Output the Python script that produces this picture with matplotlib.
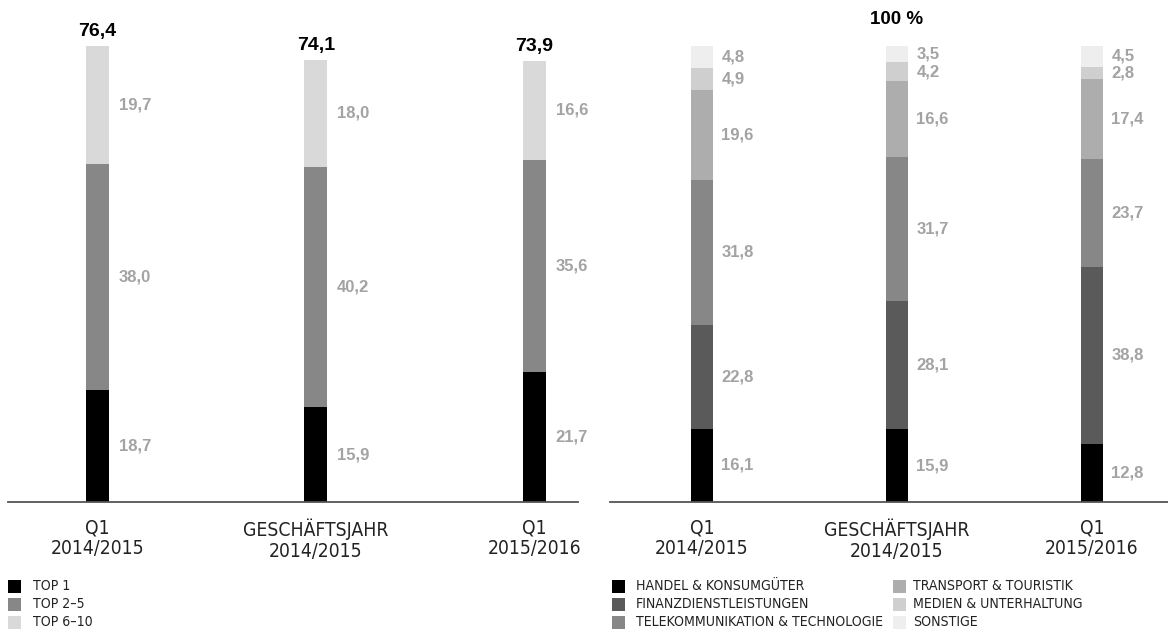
import matplotlib
matplotlib.use("Agg")
import matplotlib.pyplot as plt
from matplotlib import font_manager as fm
from matplotlib.font_manager import FontProperties
from matplotlib.patches import Rectangle

# ---- data ----
categories = ["Q1\n2014/2015", "GESCHÄFTSJAHR\n2014/2015", "Q1\n2015/2016"]

left_series = ["TOP 1", "TOP 2–5", "TOP 6–10"]
top1 = [18.7, 15.9, 21.7]
top2_5 = [38.0, 40.2, 35.6]
top6_10 = [19.7, 18.0, 16.6]
left_totals = [76.4, 74.1, 73.9]

right_series = ["HANDEL & KONSUMGÜTER", "FINANZDIENSTLEISTUNGEN",
                "TELEKOMMUNIKATION & TECHNOLOGIE", "TRANSPORT & TOURISTIK",
                "MEDIEN & UNTERHALTUNG", "SONSTIGE"]
handel = [16.1, 15.9, 12.8]
finanz = [22.8, 28.1, 38.8]
telekom = [31.8, 31.7, 23.7]
transport = [19.6, 16.6, 17.4]
medien = [4.9, 4.2, 2.8]
sonstige = [4.8, 3.5, 4.5]
right_total_label = "100 %"

left_colors = ["#000000", "#878787", "#d9d9d9"]
right_colors = ["#000000", "#5a5a5a", "#878787", "#adadad", "#cfcfcf", "#eeeeee"]

# ---- fonts ----
names = {f.name for f in fm.fontManager.ttflist}
NUMF = "Liberation Sans" if "Liberation Sans" in names else "DejaVu Sans"


def pick_narrow():
    cands = []
    for f in fm.fontManager.ttflist:
        n = f.name.lower()
        fn = f.fname.lower()
        narrow = ("narrow" in n or "condensed" in n or "narrow" in fn or
                  "condensed" in fn or str(f.stretch) in
                  ("condensed", "semi-condensed", "extra-condensed", "ultra-condensed"))
        if not narrow or f.style != "normal":
            continue
        w = f.weight if isinstance(f.weight, int) else {"normal": 400, "regular": 400,
                                                         "light": 300, "bold": 700}.get(str(f.weight), 400)
        if "bold" in fn or "italic" in fn or "oblique" in fn:
            continue
        pref = 0 if "liberation" in n else 1
        cands.append((pref, abs(w - 350), f.fname))
    if cands:
        cands.sort()
        return FontProperties(fname=cands[0][2])
    if "Roboto" in names:
        return FontProperties(family="Roboto", weight="light")
    return FontProperties(family="DejaVu Sans")


NARROW_FP = pick_narrow()

W, H = 1168, 632
fig = plt.figure(figsize=(W / 100, H / 100), dpi=100)
renderer = fig.canvas.get_renderer()


def fit_size(text, target_px):
    fp = NARROW_FP.copy()
    fp.set_size(10)
    t = fig.text(0, 0, text, fontproperties=fp)
    w = t.get_window_extent(renderer=renderer).width
    t.remove()
    return 10 * target_px / w


cat_size = fit_size("GESCHÄFTSJAHR", 146)
leg_size = fit_size("TELEKOMMUNIKATION & TECHNOLOGIE", 247)


def fp_at(size):
    fp = NARROW_FP.copy()
    fp.set_size(size)
    return fp


def px_axes(x0, x1, ybase):
    return fig.add_axes([x0 / W, (H - ybase) / H, (x1 - x0) / W, ybase / H])


def fmt(v):
    return f"{v:.1f}".replace(".", ",")


def draw_stack(ax, series_vals, colors, width, label_offset):
    xs = range(len(categories))
    bottoms = [0.0] * len(categories)
    for vals, col in zip(series_vals, colors):
        ax.bar(xs, vals, width, bottom=bottoms, color=col, linewidth=0)
        for i, v in enumerate(vals):
            ax.annotate(fmt(v), (i + width / 2, bottoms[i] + v / 2),
                        xytext=(label_offset, 0), textcoords="offset points",
                        ha="left", va="center", fontsize=12, color="#a3a3a3",
                        fontweight="bold", family=NUMF)
        bottoms = [b + v for b, v in zip(bottoms, vals)]
    return bottoms


def style(ax, ymax, xl):
    ax.set_ylim(0, ymax)
    ax.set_xlim(*xl)
    for s in ["top", "right", "left"]:
        ax.spines[s].set_visible(False)
    ax.spines["bottom"].set_color("#555555")
    ax.spines["bottom"].set_linewidth(1.3)
    ax.set_yticks([])
    ax.set_xticks(range(len(categories)))
    ax.set_xticklabels(categories, fontproperties=fp_at(cat_size), color="#222222",
                       linespacing=1.1)
    ax.tick_params(axis="x", length=0, pad=12)
    ax.patch.set_alpha(0)


# left panel
axL = px_axes(8, 578, 502)
tops = draw_stack(axL, [top1, top2_5, top6_10], left_colors, 0.105, 7)
style(axL, 502 / 5.97, (-0.41, 2.20))
for i, t in enumerate(left_totals):
    axL.annotate(fmt(t), (i, tops[i]), xytext=(0, 4), textcoords="offset points",
                 ha="center", va="bottom", fontsize=14, fontweight="bold",
                 family=NUMF, color="#000000")

# right panel
axR = px_axes(610, 1168, 502)
topsR = draw_stack(axR, [handel, finanz, telekom, transport, medien, sonstige],
                   right_colors, 0.113, 6)
style(axR, 502 / 4.56, (-0.472, 2.39))
axR.annotate(right_total_label, (1, max(topsR)), xytext=(0, 13),
             textcoords="offset points", ha="center", va="bottom",
             fontsize=13.5, fontweight="bold", family=NUMF, color="#000000")


# legends (drawn manually)
def legend(entries, colors, x_sq, x_txt, rows_y):
    for k, (lab, col) in enumerate(zip(entries, colors)):
        yc = rows_y[k]
        fig.patches.append(Rectangle((x_sq / W, (H - yc - 6.5) / H), 13 / W, 13 / H,
                                     transform=fig.transFigure, color=col,
                                     linewidth=0))
        fig.text(x_txt / W, (H - yc) / H, lab, fontproperties=fp_at(leg_size),
                 color="#222222", ha="left", va="center")


rows = [586, 604, 622]
legend(left_series, left_colors, 8, 33, rows)
legend(right_series[:3], right_colors[:3], 612, 636, rows)
legend(right_series[3:], right_colors[3:], 893, 913, rows)

fig.savefig("out.png", dpi=100)
